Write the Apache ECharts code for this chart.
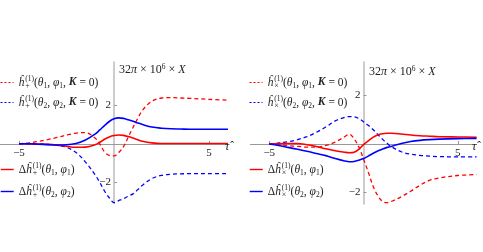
<!DOCTYPE html>
<html>
<head>
<meta charset="utf-8">
<script src="https://cdn.jsdelivr.net/npm/echarts@6/dist/echarts.min.js"></script>
<style>html,body{margin:0;padding:0;background:#fff}#c{width:483px;height:252px}</style>
</head>
<body>
<div id="c"></div>
<script>
// sample times (tau)
var tau = [-5,-4.5,-4,-3.5,-3,-2.5,-2,-1.5,-1,-0.75,-0.5,-0.25,0,0.25,0.5,0.75,1,1.25,1.5,2,2.5,3,3.5,4,5,6];
// left panel: h_plus
var plusDashRed  = [0,0.05,0.12,0.22,0.33,0.45,0.56,0.58,0.3,0.0,-0.42,-0.6,-0.63,-0.45,-0.15,0.35,0.85,1.32,1.75,2.22,2.38,2.4,2.38,2.36,2.31,2.27];
var plusDashBlue = [0,0,-0.01,-0.03,-0.07,-0.18,-0.45,-0.95,-1.6,-2.0,-2.45,-2.8,-3.05,-2.95,-2.85,-2.72,-2.6,-2.38,-2.15,-1.8,-1.64,-1.58,-1.56,-1.55,-1.55,-1.55];
var plusSolidRed = [0,0,-0.01,-0.03,-0.07,-0.13,-0.18,-0.17,-0.05,0.08,0.24,0.36,0.43,0.46,0.44,0.38,0.3,0.21,0.13,0.05,0.02,0.02,0.02,0.02,0.02,0.02];
var plusSolidBlue= [0,0,-0.02,-0.04,-0.06,-0.05,0.02,0.2,0.5,0.72,0.95,1.16,1.3,1.35,1.32,1.25,1.17,1.08,1.0,0.87,0.81,0.78,0.77,0.76,0.76,0.76];
// right panel: h_cross
var crossDashRed  = [0,-0.03,-0.07,-0.1,-0.13,-0.13,-0.06,0.08,0.3,0.4,0.22,-0.12,-0.62,-1.15,-1.72,-2.12,-2.36,-2.42,-2.36,-2.18,-1.95,-1.7,-1.5,-1.4,-1.3,-1.26];
var crossDashBlue = [0,0.04,0.09,0.18,0.3,0.48,0.7,0.95,1.1,1.13,1.12,1.05,0.92,0.77,0.6,0.4,0.2,0.03,-0.12,-0.32,-0.42,-0.47,-0.5,-0.52,-0.53,-0.53];
var crossSolidRed = [0,0.01,0.02,0.02,-0.03,-0.1,-0.2,-0.28,-0.34,-0.36,-0.34,-0.22,-0.03,0.13,0.27,0.37,0.42,0.44,0.44,0.41,0.37,0.34,0.32,0.3,0.29,0.28];
var crossSolidBlue= [0,-0.06,-0.14,-0.22,-0.3,-0.39,-0.48,-0.6,-0.7,-0.73,-0.72,-0.67,-0.6,-0.5,-0.39,-0.29,-0.21,-0.14,-0.09,0.02,0.1,0.15,0.18,0.2,0.22,0.23];
var xTicks = [-5, 5];
var yTicks = [-2, 2];

var RED = '#ff0000', BLUE = '#0000ff';
var FONT = 'Liberation Serif';
function pairs(v){ return tau.map(function(t,i){ return [t, v[i]]; }); }

var FS = 11.5;
var rich = {
  n:{fontFamily:FONT,fontSize:FS,color:'#222',lineHeight:15},
  i:{fontFamily:FONT,fontSize:FS,fontStyle:'italic',color:'#222',lineHeight:15},
  b:{fontFamily:FONT,fontSize:FS,fontStyle:'italic',fontWeight:'bold',color:'#222',lineHeight:15},
  sup:{fontFamily:FONT,fontSize:7.5,color:'#222',verticalAlign:'top',lineHeight:15},
  sub0:{fontFamily:FONT,fontSize:8,color:'#222',verticalAlign:'bottom',lineHeight:15,width:0,padding:[0,0,0,1]},
  sub:{fontFamily:FONT,fontSize:7.5,color:'#222',verticalAlign:'bottom',lineHeight:14}
};
function hat(op, k, K){
  return '{i|ĥ}{sub0|'+op+'}{sup|(1)}{n|(}{i|θ}{sub|'+k+'}{n|, }{i|φ}{sub|'+k+'}'+(K?'{n|, }{b|K}{n| = 0)}':'{n|)}');
}
var labels = {
  'pr':hat('+',1,true), 'pb':hat('+',2,true), 'pR':'{n|Δ}'+hat('+',1,false), 'pB':'{n|Δ}'+hat('+',2,false),
  'cr':hat('×',1,true), 'cb':hat('×',2,true), 'cR':'{n|Δ}'+hat('×',1,false), 'cB':'{n|Δ}'+hat('×',2,false)
};

function ser(name, data, color, dashed, idx){
  return {name:name, type:'line', xAxisIndex:idx, yAxisIndex:idx, data:pairs(data), smooth:0.35,
    symbol:'none', silent:true, z: dashed?3:4, color:color,
    lineStyle:{color:color, width: dashed?1.3:1.6, type: dashed?[4,3]:'solid'}, itemStyle:{color:color}};
}
function legend(names, left, top, gap, dashed){
  return {data:names, orient:'vertical', left:left, top:top, itemGap:gap, itemWidth:13, itemHeight:8,
    padding:0, selectedMode:false, formatter:function(n){return labels[n];},
    itemStyle:{opacity:0},
    lineStyle:{width: dashed?1:1.4, type: dashed?[2,2]:'solid'},
    textStyle:{rich:rich}};
}
function xAx(idx, off){
  return {type:'value', gridIndex:idx, min:-6, max:6, position:'bottom', offset:off,
    axisLine:{onZero:false, lineStyle:{color:'#999', width:1}},
    axisTick:{inside:true, length:3, customValues:xTicks, lineStyle:{color:'#999'}},
    axisLabel:{customValues:xTicks, margin:4, fontFamily:FONT, fontSize:11, color:'#222',
      formatter:function(v){return v<0?'−'+(-v):''+v;}},
    splitLine:{show:false}};
}
function yAx(idx, mn, mx, off){
  return {type:'value', gridIndex:idx, min:mn, max:mx, position:'left', offset:off,
    axisLine:{show:true, onZero:false, lineStyle:{color:'#bbb', width:1.5}},
    axisTick:{show:true, inside:true, length:3, customValues:yTicks, lineStyle:{color:'#999'}},
    axisLabel:{customValues:yTicks, margin:3, fontFamily:FONT, fontSize:11, color:'#222',
      formatter:function(v){return v<0?'−'+(-v):''+v;}},
    splitLine:{show:false}};
}
var titleRich = {
  n:{fontFamily:FONT,fontSize:12,fontWeight:'normal',color:'#222'},
  i:{fontFamily:FONT,fontSize:12,fontWeight:'normal',fontStyle:'italic',color:'#222'},
  sup:{fontFamily:FONT,fontSize:7.5,fontWeight:'normal',color:'#222',verticalAlign:'top',lineHeight:14}
};
var option = {
  animation:false,
  grid:[
    {left:0, top:62, width:228, height:141.5, outerBoundsMode:'none', containLabel:false},
    {left:250.4, top:62, width:226.2, height:141.9, outerBoundsMode:'none', containLabel:false}
  ],
  xAxis:[xAx(0,-59.7), xAx(1,-59.9)],
  yAxis:[yAx(0,-3.1,4.25,-114), yAx(1,-2.47,3.38,-113.1)],
  legend:[
    legend(['pr','pb'], 0, 75, 5, true),
    legend(['pR','pB'], 0, 162, 7, false),
    legend(['cr','cb'], 249, 75, 5, true),
    legend(['cR','cB'], 249, 162, 7, false)
  ],
  title:[
    {text:'{n|32}{i|π}{n| × 10}{sup|6}{n| × }{i|X}', left:119, top:63, padding:0, textStyle:{fontWeight:'normal', rich:titleRich}},
    {text:'{n|32}{i|π}{n| × 10}{sup|6}{n| × }{i|X}', left:369, top:65, padding:0, textStyle:{fontWeight:'normal', rich:titleRich}},
    {text:'{i|τ̂}', left:225, top:141, padding:0, textStyle:{fontWeight:'normal', rich:titleRich}},
    {text:'{i|τ̂}', left:472, top:141, padding:0, textStyle:{fontWeight:'normal', rich:titleRich}}
  ],
  series:[
    ser('pr', plusDashRed, RED, true, 0),
    ser('pb', plusDashBlue, BLUE, true, 0),
    ser('pR', plusSolidRed, RED, false, 0),
    ser('pB', plusSolidBlue, BLUE, false, 0),
    ser('cr', crossDashRed, RED, true, 1),
    ser('cb', crossDashBlue, BLUE, true, 1),
    ser('cR', crossSolidRed, RED, false, 1),
    ser('cB', crossSolidBlue, BLUE, false, 1)
  ]
};
var chart = echarts.init(document.getElementById('c'), null, {renderer:'canvas'});
chart.setOption(option);
</script>
</body>
</html>
